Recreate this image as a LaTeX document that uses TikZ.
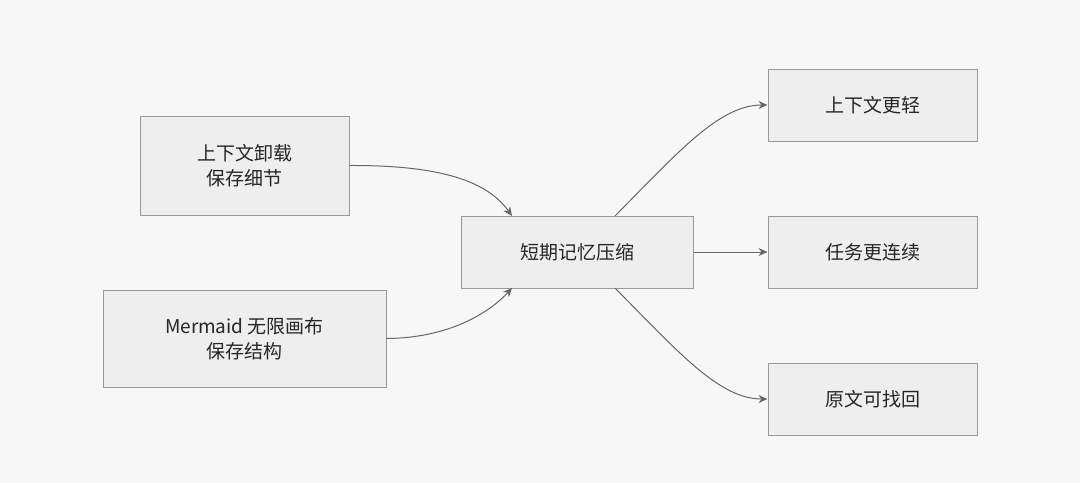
\documentclass[tikz,border=0pt]{standalone}
\usepackage{fontspec}
\setmainfont{Noto Sans CJK SC}
\usetikzlibrary{arrows.meta}
\definecolor{bx}{HTML}{EEEEEE}
\definecolor{bd}{HTML}{999999}
\definecolor{ln}{HTML}{666666}
\begin{document}
\begin{tikzpicture}[x=1pt,y=-1pt,
 box/.style={draw=bd,fill=bx,line width=1pt,align=center,font=\fontsize{19}{25}\selectfont,text=black!85},
 arr/.style={draw=ln,line width=1pt,-{Stealth[length=9pt,width=8pt]}}]
\fill[white!97!black] (0,0) rectangle (1080,483);
\useasboundingbox (0,0) rectangle (1080,483);
\node[box,minimum width=209pt,minimum height=99pt] (A) at (244.5,165.5) {上下文卸载\\保存细节};
\node[box,minimum width=283pt,minimum height=97pt] (B) at (244.5,338.5) {Mermaid 无限画布\\保存结构};
\node[box,minimum width=232pt,minimum height=72pt] (C) at (577,252) {短期记忆压缩};
\node[box,minimum width=209pt,minimum height=72pt] (D) at (872.5,105) {上下文更轻};
\node[box,minimum width=209pt,minimum height=72pt] (E) at (872.5,252) {任务更连续};
\node[box,minimum width=209pt,minimum height=72pt] (F) at (872.5,399) {原文可找回};
\coordinate (ct) at (512,216);
\coordinate (cb) at (512,288);
\coordinate (ot) at (615,216);
\coordinate (ob) at (615,288);
\draw[arr] (A.east) .. controls (450,165) and (490,185) .. (ct);
\draw[arr] (B.east) .. controls (450,338) and (490,312) .. (cb);
\draw[arr] (ot) .. controls (680,150) and (720,105) .. (D.west);
\draw[arr] (C.east) -- (E.west);
\draw[arr] (ob) .. controls (680,354) and (720,399) .. (F.west);
\end{tikzpicture}
\end{document}
